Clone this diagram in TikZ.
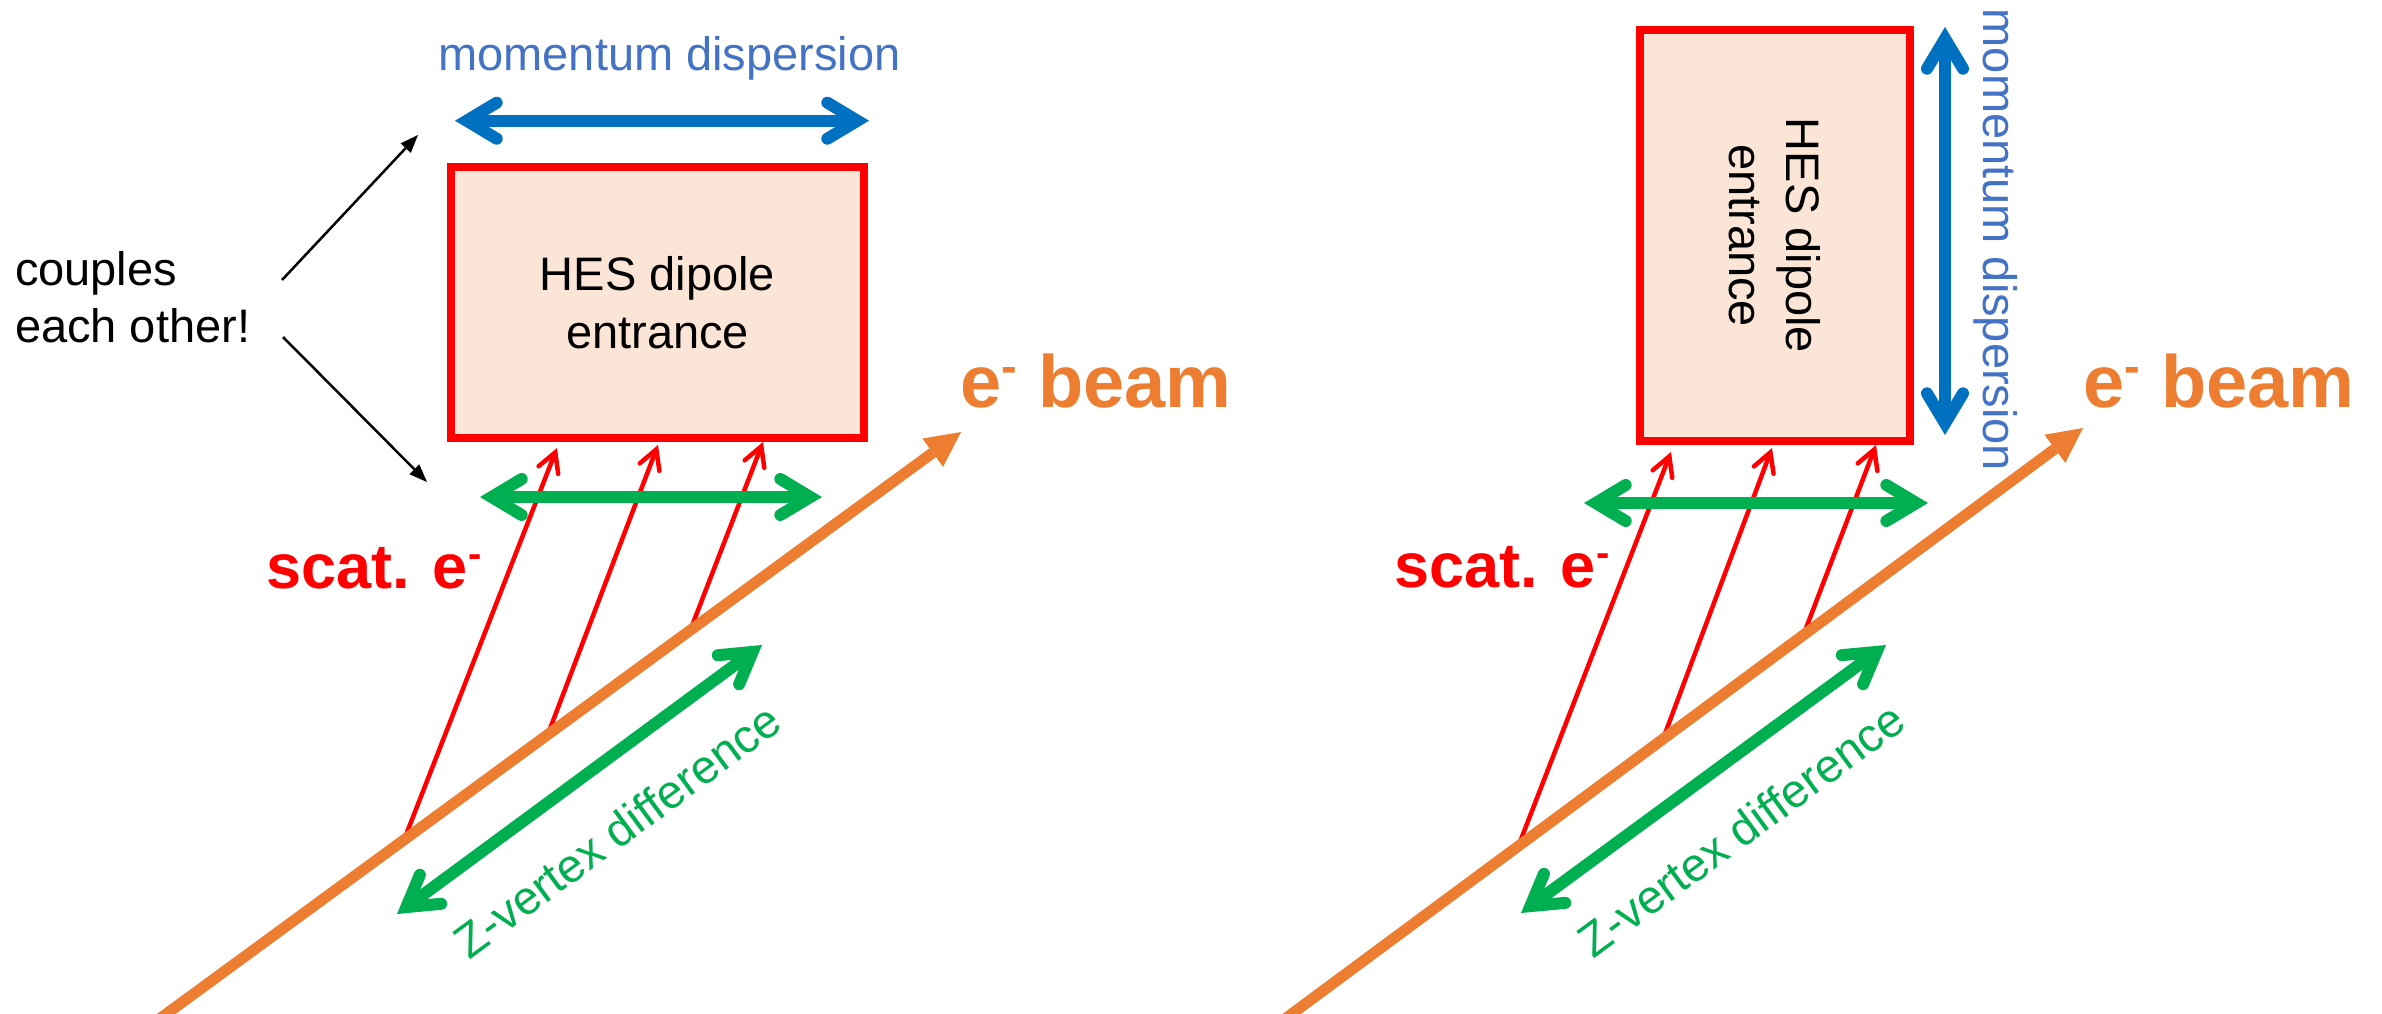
\documentclass[tikz,border=0pt]{standalone}
\usepackage{fontspec}
\setmainfont{Liberation Sans}
\usetikzlibrary{arrows.meta}
\definecolor{bluearrow}{HTML}{0070C0}
\definecolor{bluetext}{HTML}{4472C4}
\definecolor{mygreen}{HTML}{00B050}
\definecolor{myorange}{HTML}{ED7D31}
\definecolor{myred}{HTML}{FF0000}
\definecolor{boxfill}{HTML}{FBE5D6}
\newcommand{\eminus}[1]{e\kern0.01em\raisebox{0.33em}{\fontsize{#1}{#1}\selectfont -}}
\tikzset{
  every node/.style={inner sep=0pt, outer sep=0pt},
  barbhead/.style={>={Straight Barb[length=30pt,width=36pt,line cap=round]}},
  fatdbl/.style={line width=12pt, barbhead, <->},
  redray/.style={draw=myred, line width=4.5pt, -{Straight Barb[length=19pt,width=21pt,line cap=round]}},
  beamarrow/.style={draw=myorange, line width=11pt, -{Triangle[length=35pt,width=35pt,line width=0pt]}},
  pointer/.style={draw=black, line width=2.5pt, -{Triangle[length=18pt,width=14pt,line width=0pt]}},
  dipole/.style={draw=myred, line width=8pt, fill=boxfill},
  midfont/.style={font=\fontsize{47}{57.5}\selectfont},
  scatfont/.style={font=\bfseries\fontsize{63}{70}\selectfont, text=myred},
  beamfont/.style={font=\bfseries\fontsize{74}{80}\selectfont, text=myorange},
}
\begin{document}
\begin{tikzpicture}[x=1pt,y=-1pt]
\useasboundingbox (0,0) rectangle (2382,1013);
\fill[white] (0,0) rectangle (2382,1013);
\clip (0,0) rectangle (2382,1013);

% ================= LEFT PANEL =================
\node[dipole, midfont, align=center, minimum width=413pt, minimum height=271pt] (boxL) at (657.5,302.5) {HES dipole\\entrance};

\node[midfont, text=bluetext, anchor=base] (mdL) at (669.5,70) {momentum dispersion};
\coordinate (mdLa) at (455,120.7);
\coordinate (mdLb) at (869,120.7);
\draw[draw=bluearrow, fatdbl] (mdLa) -- (mdLb);

\node[midfont, align=left, anchor=north west] (couples) at (15,251) {couples\\each other!};
\coordinate (cpA) at (282,280);
\coordinate (cpAt) at (418,135);
\coordinate (cpB) at (283,337);
\coordinate (cpBt) at (427,482);
\draw[pointer] (cpA) -- (cpAt);
\draw[pointer] (cpB) -- (cpBt);

% red scattered electrons
\coordinate (rL1s) at (404,840);  \coordinate (rL1e) at (557,448);
\coordinate (rL2s) at (548,734);  \coordinate (rL2e) at (658,445);
\coordinate (rL3s) at (690,631);  \coordinate (rL3e) at (763,442);
\draw[redray] (rL1s) -- (rL1e);
\draw[redray] (rL2s) -- (rL2e);
\draw[redray] (rL3s) -- (rL3e);

% beam
\coordinate (bL0) at (158,1020);
\coordinate (bL1) at (961,432);
\draw[beamarrow] (bL0) -- (bL1);

% green arrows
\coordinate (gLa) at (480,497);
\coordinate (gLb) at (822,497);
\draw[draw=mygreen, fatdbl] (gLa) -- (gLb);
\coordinate (zLa) at (397,914);
\coordinate (zLb) at (762,645);
\draw[draw=mygreen, fatdbl] (zLa) -- (zLb);
\node[midfont, text=mygreen, rotate=36.4, anchor=base] (zvL) at (627,844) {Z-vertex difference};

\node[scatfont, anchor=base west] (scatL) at (266,588) {scat. \eminus{40}};
\node[beamfont, anchor=base west] (ebL) at (960,407) {\eminus{47} beam};

% ================= RIGHT PANEL =================
\node[dipole, minimum width=270pt, minimum height=411pt] (boxR) at (1775,235.5) {};
\node[midfont, align=center, rotate=-90] (hesR) at (boxR.center) {HES dipole\\entrance};

\coordinate (mdRa) at (1945,27);
\coordinate (mdRb) at (1945,435);
\draw[draw=bluearrow, fatdbl] (mdRa) -- (mdRb);
\node[midfont, text=bluetext, rotate=-90, anchor=base] (mdR) at (1983,240) {momentum dispersion};

\coordinate (rR1s) at (1518,847);  \coordinate (rR1e) at (1671,452);
\coordinate (rR2s) at (1663,739);  \coordinate (rR2e) at (1772,448);
\coordinate (rR3s) at (1803,636);  \coordinate (rR3e) at (1876,445);
\draw[redray] (rR1s) -- (rR1e);
\draw[redray] (rR2s) -- (rR2e);
\draw[redray] (rR3s) -- (rR3e);

\coordinate (bR0) at (1283.5,1020);
\coordinate (bR1) at (2083,428);
\draw[beamarrow] (bR0) -- (bR1);

\coordinate (gRa) at (1584,503);
\coordinate (gRb) at (1928,503);
\draw[draw=mygreen, fatdbl] (gRa) -- (gRb);
\coordinate (zRa) at (1521,913);
\coordinate (zRb) at (1886,645);
\draw[draw=mygreen, fatdbl] (zRa) -- (zRb);
\node[midfont, text=mygreen, rotate=36.4, anchor=base] (zvR) at (1751,843) {Z-vertex difference};

\node[scatfont, anchor=base west] (scatR) at (1394,587) {scat. \eminus{40}};
\node[beamfont, anchor=base west] (ebR) at (2083,407) {\eminus{47} beam};
\end{tikzpicture}
\end{document}
